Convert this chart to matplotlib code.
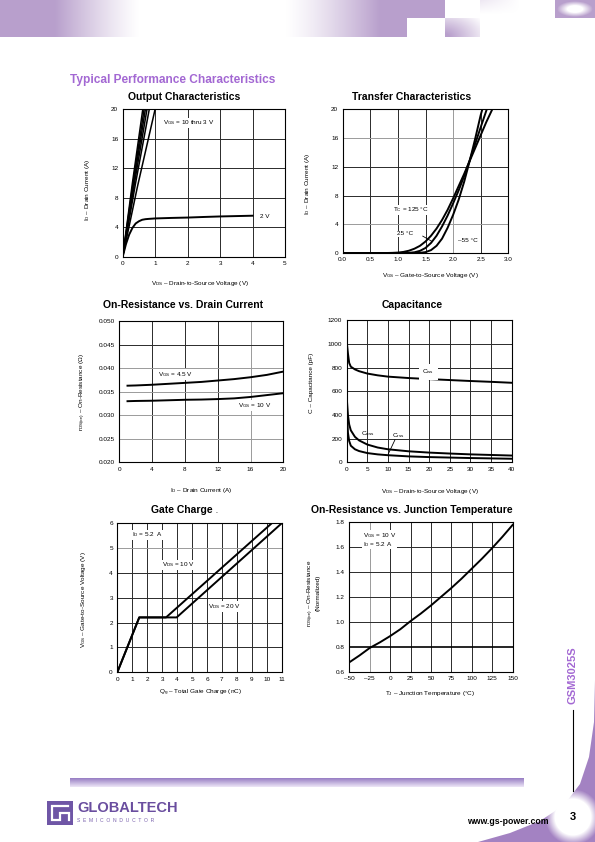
import numpy as np
import matplotlib
matplotlib.use('Agg')
import matplotlib.pyplot as plt
from matplotlib.patches import Rectangle, Polygon

plt.rcParams['font.family'] = ['Liberation Sans', 'DejaVu Sans']
plt.rcParams['mathtext.fontset'] = 'custom'
plt.rcParams['mathtext.rm'] = 'Liberation Sans'
plt.rcParams['mathtext.it'] = 'Liberation Sans:italic'
plt.rcParams['mathtext.bf'] = 'Liberation Sans:bold'

# ---------------- data ----------------
# Output characteristics (VGS = 10 thru 3 V, steep region)
out_hi_vds = [[0, 0.30, 0.62], [0, 0.32, 0.66], [0, 0.34, 0.70],
              [0, 0.36, 0.75], [0, 0.39, 0.82], [0, 0.46, 1.00]]
out_hi_id = [[0, 10.0, 20], [0, 10.0, 20], [0, 10.0, 20],
             [0, 9.9, 20], [0, 9.8, 20], [0, 9.6, 20]]
out_2v_vds = [0, 0.1, 0.2, 0.3, 0.4, 0.5, 0.6, 0.7, 0.8, 1.0, 1.5, 2.0, 2.5, 3.0, 3.5, 4.0]
out_2v_id = [0, 1.7, 3.0, 3.9, 4.5, 4.8, 5.0, 5.08, 5.12, 5.18, 5.25, 5.3, 5.38, 5.45, 5.5, 5.55]

# Transfer characteristics
tr_125_vgs = [0, 0.8, 0.9, 1.0, 1.1, 1.2, 1.3, 1.4, 1.5, 1.6, 1.7, 1.8, 1.9, 2.0, 2.1, 2.2, 2.3, 2.4, 2.5, 2.6, 2.71]
tr_125_id = [0, 0, 0.02, 0.06, 0.15, 0.32, 0.6, 1.0, 1.6, 2.4, 3.4, 4.6, 6.0, 7.6, 9.3, 11.0, 12.8, 14.6, 16.4, 18.2, 20]
tr_25_vgs = [0, 1.1, 1.2, 1.3, 1.4, 1.5, 1.6, 1.7, 1.8, 1.9, 2.0, 2.1, 2.2, 2.3, 2.4, 2.5, 2.61]
tr_25_id = [0, 0, 0.03, 0.1, 0.3, 0.7, 1.4, 2.4, 3.7, 5.2, 6.9, 8.7, 10.7, 12.9, 15.2, 17.5, 20]
tr_m55_vgs = [0, 1.3, 1.4, 1.5, 1.6, 1.7, 1.8, 1.9, 2.0, 2.1, 2.2, 2.3, 2.4, 2.5, 2.53]
tr_m55_id = [0, 0, 0.03, 0.12, 0.4, 1.0, 2.0, 3.5, 5.3, 7.4, 9.9, 12.8, 15.9, 19.2, 20]

# On-resistance vs drain current
ron_id = [1, 2, 4, 6, 8, 10, 12, 14, 16, 18, 20]
ron_45 = [0.0363, 0.03635, 0.0365, 0.0367, 0.0369, 0.0371, 0.0374, 0.0377, 0.0381, 0.0386, 0.0393]
ron_10 = [0.0330, 0.03305, 0.0331, 0.0332, 0.0333, 0.03335, 0.03345, 0.0336, 0.0339, 0.0343, 0.0347]

# Capacitance
cap_vds = [0, 0.3, 0.6, 1, 2, 3, 5, 7.5, 10, 15, 20, 25, 30, 35, 40]
cap_ciss = [1020, 920, 840, 808, 785, 770, 750, 735, 724, 712, 703, 695, 687, 680, 672]
cap_coss = [550, 400, 320, 270, 215, 185, 150, 125, 110, 93, 82, 74, 67, 62, 57]
cap_crss = [450, 250, 180, 140, 110, 95, 78, 67, 60, 50, 44, 40, 36, 33, 30]

# Gate charge
gc_q_10 = [0, 1.47, 3.26, 10.33]
gc_v_10 = [0, 2.21, 2.21, 6.0]
gc_q_20 = [0, 1.47, 3.97, 11.0]
gc_v_20 = [0, 2.21, 2.21, 6.0]

# On-resistance vs junction temperature
tj = [-50, -37.5, -25, -12.5, 0, 12.5, 25, 37.5, 50, 62.5, 75, 87.5, 100, 112.5, 125, 137.5, 150]
rn = [0.675, 0.73, 0.79, 0.835, 0.885, 0.94, 1.005, 1.065, 1.13, 1.2, 1.27, 1.345, 1.425, 1.505, 1.59, 1.68, 1.775]

# tick labels
p1_xt = [0, 1, 2, 3, 4, 5]; p1_yt = [0, 4, 8, 12, 16, 20]
p2_xt = [0, 0.5, 1.0, 1.5, 2.0, 2.5, 3.0]; p2_xl = ['0.0', '0.5', '1.0', '1.5', '2.0', '2.5', '3.0']
p2_yt = [0, 4, 8, 12, 16, 20]
p3_xt = [0, 4, 8, 12, 16, 20]
p3_yt = [0.020, 0.025, 0.030, 0.035, 0.040, 0.045, 0.050]
p3_yl = ['0.020', '0.025', '0.030', '0.035', '0.040', '0.045', '0.050']
p4_xt = [0, 5, 10, 15, 20, 25, 30, 35, 40]; p4_yt = [0, 200, 400, 600, 800, 1000, 1200]
p5_xt = list(range(12)); p5_yt = [0, 1, 2, 3, 4, 5, 6]
p6_xt = [-50, -25, 0, 25, 50, 75, 100, 125, 150]
p6_xl = ['\u201350', '\u201325', '0', '25', '50', '75', '100', '125', '150']
p6_yt = [0.6, 0.8, 1.0, 1.2, 1.4, 1.6, 1.8]
p6_yl = ['0.6', '0.8', '1.0', '1.2', '1.4', '1.6', '1.8']

# ---------------- figure ----------------
W, H = 595, 842
fig = plt.figure(figsize=(W / 100, H / 100), dpi=100)
PURPLE = np.array([0.725, 0.627, 0.800])
TXT_PURPLE = '#a368d3'


def T(x, y, s, **kw):
    return fig.text(x / W, 1 - y / H, s, **kw)


# background / decorations axes
bg = fig.add_axes([0, 0, 1, 1], zorder=-5)
bg.axis('off')

# header band
hh = 37
xs = np.arange(W)[None, :] + 0.5
ys = np.arange(hh)[:, None] + 0.5
alpha = np.zeros((hh, W))
alpha = np.maximum(alpha, np.clip((140 - xs) / 85, 0, 1) ** 1.2 * np.ones_like(ys))
mid = np.clip((xs - 285) / 95, 0, 1) ** 1.3 * (xs < 380)
alpha = np.maximum(alpha, mid * np.ones_like(ys))
top = (ys < 18.5)
alpha = np.where((xs >= 380) & (xs < 445) & top, 1, alpha)
alpha = np.where((xs >= 380) & (xs < 407) & ~top, 1, alpha)
d = np.sqrt(((xs - 443) / 42) ** 2 + ((ys - 37) / 26) ** 2)
alpha = np.where((xs >= 445) & (xs < 480) & ~top, np.clip(1.15 - d, 0, 1), alpha)
alpha = np.where((xs >= 480) & (xs < 520) & top, 0.25 * np.clip(1 - ys / 14, 0, 1) * np.clip(1 - (xs - 480) / 40, 0, 1), alpha)
r = np.sqrt(((xs - 575) / 17) ** 2 + ((ys - 9) / 7.5) ** 2)
alpha = np.where((xs >= 555) & top, np.clip((r - 0.45) / 0.6, 0, 1), alpha)
img = np.zeros((hh, W, 4))
img[..., :3] = PURPLE
img[..., 3] = alpha
bg.imshow(img, extent=[0, W, hh, 0], aspect='auto', interpolation='bilinear', zorder=0)

# footer bar
fb = np.zeros((10, 2, 4))
c_top = np.array([0.60, 0.50, 0.77]); c_bot = np.array([0.92, 0.89, 0.96])
for i in range(10):
    fb[i, :, :3] = c_top + (c_bot - c_top) * i / 9
fb[..., 3] = 1
bg.imshow(fb, extent=[70, 524, 787, 778], aspect='auto', interpolation='bilinear', zorder=0)

# corner swoosh
corner = [(595, 680), (594, 722), (589, 757), (580, 784), (564, 805), (540, 821), (510, 833), (478, 842), (595, 842)]
bg.add_patch(Polygon(corner, closed=True, facecolor='#a382c2', edgecolor='none', zorder=1))
gx = np.arange(540, 600)[None, :] + 0.5
gy = np.arange(790, 842)[:, None] + 0.5
rr = np.sqrt((gx - 573) ** 2 + (gy - 817) ** 2)
glow = np.zeros((52, 60, 4))
glow[..., :3] = 1
glow[..., 3] = np.clip((28 - rr) / 10, 0, 1)
bg.imshow(glow, extent=[540, 600, 842, 790], aspect='auto', interpolation='bilinear', zorder=2)
bg.plot([573, 573], [710, 791], color='black', lw=0.8, zorder=3)

# logo
bg.add_patch(Rectangle((47, 801), 26, 24, facecolor='#6f56a6', edgecolor='none', zorder=3))
bg.plot([68, 52, 52, 60, 60, 69, 69], [806, 806, 820, 820, 813, 813, 820], color='white', lw=1.6,
        solid_joinstyle='miter', zorder=4)

bg.set_xlim(0, W)
bg.set_ylim(H, 0)

T(77, 808, 'GLOBALTECH', fontsize=10.5, fontweight='bold', color='#6a4e9f', ha='left', va='center')
T(77, 821, 'S  E  M  I  C  O  N  D  U  C  T  O  R', fontsize=3.6, color='#7a62ad', ha='left', va='center')
T(508, 822, 'www.gs-power.com', fontsize=6.3, fontweight='bold', color='black', ha='center', va='center')
T(573, 817, '3', fontsize=8, fontweight='bold', color='black', ha='center', va='center')
T(573, 675, 'GSM3025S', fontsize=8, fontweight='bold', color=TXT_PURPLE, rotation=90, ha='center', va='center')

T(70, 80, 'Typical Performance Characteristics', fontsize=8.6, fontweight='bold', color=TXT_PURPLE,
  ha='left', va='center')

# panel titles
TS = dict(fontsize=7.5, fontweight='bold', ha='center', va='center')
T(184, 97, 'Output Characteristics', **TS)
T(412, 97, 'Transfer Characteristics', **TS)
T(183, 305, 'On-Resistance vs. Drain Current', **TS)
T(412, 305, 'Capacitance', **TS)
T(182, 510, 'Gate Charge', **TS)
T(217, 513, '-', fontsize=4, ha='center', va='center')
T(412, 510, 'On-Resistance vs. Junction Temperature', **TS)

FS = 4.6
LW = 1.4
DARK = '#2a2a2a'
GRAY = '#9a9a9a'
BOX = dict(facecolor='white', edgecolor='none', pad=0.6)


def panel(x0, y0, x1, y1):
    ax = fig.add_axes([x0 / W, 1 - y1 / H, (x1 - x0) / W, (y1 - y0) / H])
    for sp in ax.spines.values():
        sp.set_linewidth(0.8)
        sp.set_color('black')
        sp.set_zorder(5)
    ax.tick_params(length=0, labelsize=FS, pad=3.2, colors='black')
    return ax


def grid(ax, xt, yt, gx=(), gy=(), bold_y=()):
    for i, v in enumerate(xt[1:-1], start=1):
        ax.axvline(v, color=GRAY if i in gx else DARK, lw=0.7, zorder=1)
    for i, v in enumerate(yt[1:-1], start=1):
        if i in bold_y:
            ax.axhline(v, color='black', lw=1.2, zorder=1)
        else:
            ax.axhline(v, color=GRAY if i in gy else DARK, lw=0.7, zorder=1)


# ---- Panel 1: output characteristics
ax = panel(122.7, 109, 285, 256.7)
ax.set_xlim(0, 5); ax.set_ylim(0, 20)
ax.set_xticks(p1_xt); ax.set_yticks(p1_yt)
grid(ax, p1_xt, p1_yt)
for xv, yv in zip(out_hi_vds, out_hi_id):
    ax.plot(xv, yv, color='black', lw=1.1, zorder=3)
ax.plot(out_2v_vds, out_2v_id, color='black', lw=LW, zorder=3)
ax.text(1.25, 18.1, 'V$_{\\mathrm{GS}}$ = 10 thru 3 V', fontsize=FS, va='center', ha='left', bbox=BOX, zorder=4)
ax.text(4.23, 5.4, '2 V', fontsize=FS, va='center', ha='left', bbox=BOX, zorder=4)
T(88, 190, 'I$_{\\mathrm{D}}$ \u2013 Drain Current (A)', fontsize=FS, rotation=90, ha='center', va='center')
T(200, 283, 'V$_{\\mathrm{DS}}$ \u2013 Drain-to-Source Voltage (V)', fontsize=FS, ha='center', va='center')

# ---- Panel 2: transfer characteristics
ax = panel(342.7, 109.3, 508.3, 253)
ax.set_xlim(0, 3); ax.set_ylim(0, 20)
ax.set_xticks(p2_xt); ax.set_xticklabels(p2_xl); ax.set_yticks(p2_yt)
grid(ax, p2_xt, p2_yt, gx=(4,), gy=(1, 4))
ax.plot(tr_125_vgs, tr_125_id, color='black', lw=LW, zorder=3)
ax.plot(tr_25_vgs, tr_25_id, color='black', lw=LW, zorder=3)
ax.plot(tr_m55_vgs, tr_m55_id, color='black', lw=LW, zorder=3)
ax.text(0.92, 6.0, 'T$_{\\mathrm{C}}$ = 125 \u00b0C', fontsize=FS, va='center', ha='left', bbox=BOX, zorder=4)
ax.text(0.98, 2.65, '25 \u00b0C', fontsize=FS, va='center', ha='left', bbox=BOX, zorder=4)
ax.plot([1.45, 1.62], [2.35, 1.6], color='black', lw=0.6, zorder=4)
ax.text(2.09, 1.7, '\u201355 \u00b0C', fontsize=FS, va='center', ha='left', bbox=BOX, zorder=4)
T(307, 184, 'I$_{\\mathrm{D}}$ \u2013 Drain Current (A)', fontsize=FS, rotation=90, ha='center', va='center')
T(430, 275, 'V$_{\\mathrm{GS}}$ \u2013 Gate-to-Source Voltage (V)', fontsize=FS, ha='center', va='center')

# ---- Panel 3: on-resistance vs drain current
ax = panel(119.3, 321.3, 283.3, 462.3)
ax.set_xlim(0, 20); ax.set_ylim(0.020, 0.050)
ax.set_xticks(p3_xt); ax.set_yticks(p3_yt); ax.set_yticklabels(p3_yl)
grid(ax, p3_xt, p3_yt, gx=(4,), gy=(1, 2, 3, 4))
ax.plot(ron_id, ron_45, color='black', lw=LW, zorder=3)
ax.plot(ron_id, ron_10, color='black', lw=LW, zorder=3)
ax.text(4.7, 0.0387, 'V$_{\\mathrm{GS}}$ = 4.5 V', fontsize=FS, va='center', ha='left', bbox=BOX, zorder=4)
ax.text(14.5, 0.0321, 'V$_{\\mathrm{GS}}$ = 10 V', fontsize=FS, va='center', ha='left', bbox=BOX, zorder=4)
T(83, 392, 'r$_{\\mathrm{DS(on)}}$ \u2013 On-Resistance (\u03a9)', fontsize=FS, rotation=90, ha='center', va='center')
T(201, 490, 'I$_{\\mathrm{D}}$ \u2013 Drain Current (A)', fontsize=FS, ha='center', va='center')

# ---- Panel 4: capacitance
ax = panel(346.7, 320.3, 511.7, 462.3)
ax.set_xlim(0, 40); ax.set_ylim(0, 1200)
ax.set_xticks(p4_xt); ax.set_yticks(p4_yt)
grid(ax, p4_xt, p4_yt)
ax.plot(cap_vds, cap_ciss, color='black', lw=LW, zorder=3)
ax.plot(cap_vds, cap_coss, color='black', lw=LW, zorder=3)
ax.plot(cap_vds, cap_crss, color='black', lw=LW, zorder=3)
ax.text(19.8, 763, 'C$_{\\mathrm{iss}}$', fontsize=FS, va='center', ha='center', bbox=dict(facecolor='white', edgecolor='none', pad=2.5), zorder=4)
ax.text(5.2, 245, 'C$_{\\mathrm{oss}}$', fontsize=FS, va='center', ha='center', zorder=4)
ax.text(12.6, 222, 'C$_{\\mathrm{rss}}$', fontsize=FS, va='center', ha='center', zorder=4)
ax.plot([11.7, 10.1], [190, 72], color='black', lw=0.6, zorder=4)
T(312, 383, 'C \u2013 Capacitance (pF)', fontsize=FS, rotation=90, ha='center', va='center')
T(430, 491, 'V$_{\\mathrm{DS}}$ \u2013 Drain-to-Source Voltage (V)', fontsize=FS, ha='center', va='center')

# ---- Panel 5: gate charge
ax = panel(117.3, 523.3, 281.7, 672.3)
ax.set_xlim(0, 11); ax.set_ylim(0, 6)
ax.set_xticks(p5_xt); ax.set_yticks(p5_yt)
grid(ax, p5_xt, p5_yt, gy=(5,))
ax.plot(gc_q_10, gc_v_10, color='black', lw=LW, zorder=3)
ax.plot(gc_q_20, gc_v_20, color='black', lw=LW, zorder=3)
ax.text(0.96, 5.53, 'I$_{\\mathrm{D}}$ = 5.2  A', fontsize=FS, va='center', ha='left', bbox=BOX, zorder=4)
ax.text(2.97, 4.32, 'V$_{\\mathrm{DS}}$ = 10 V', fontsize=FS, va='center', ha='left', bbox=BOX, zorder=4)
ax.text(6.1, 2.64, 'V$_{\\mathrm{DS}}$ = 20 V', fontsize=FS, va='center', ha='left', bbox=BOX, zorder=4)
T(83, 600, 'V$_{\\mathrm{GS}}$ \u2013 Gate-to-Source Voltage (V)', fontsize=FS, rotation=90, ha='center', va='center')
T(200, 693, 'Q$_{\\mathrm{g}}$ \u2013 Total Gate Charge (nC)', fontsize=FS, ha='center', va='center')

# ---- Panel 6: on-resistance vs junction temperature
ax = panel(349.3, 521.7, 512.7, 671.7)
ax.set_xlim(-50, 150); ax.set_ylim(0.6, 1.8)
ax.set_xticks(p6_xt); ax.set_xticklabels(p6_xl)
ax.set_yticks(p6_yt); ax.set_yticklabels(p6_yl)
grid(ax, p6_xt, p6_yt, gx=(1,), bold_y=(1,))
ax.plot(tj, rn, color='black', lw=LW, zorder=3)
ax.text(-33, 1.725, 'V$_{\\mathrm{GS}}$ = 10 V\nI$_{\\mathrm{D}}$ = 5.2 A', fontsize=FS, va='top', ha='left',
        linespacing=0.95, bbox=BOX, zorder=4)
T(313, 593, 'r$_{\\mathrm{DS(on)}}$ \u2013 On-Resistance\n(Normalized)', fontsize=FS, rotation=90,
  ha='center', va='center', multialignment='center', linespacing=0.95)
T(430, 693, 'T$_{\\mathrm{J}}$ \u2013 Junction Temperature (\u00b0C)', fontsize=FS, ha='center', va='center')

fig.savefig('out.png', dpi=100)
